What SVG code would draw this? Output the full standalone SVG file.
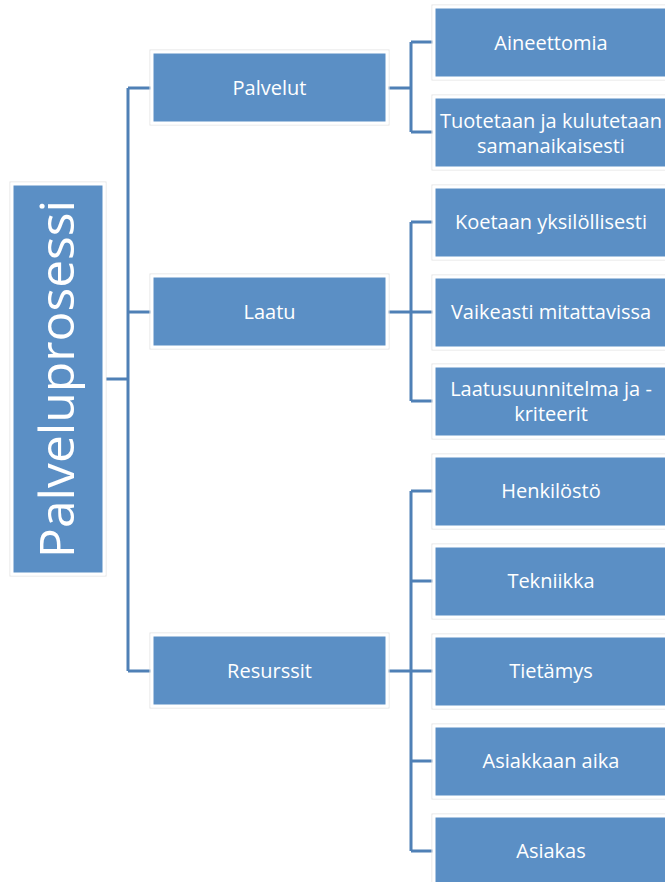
<svg xmlns="http://www.w3.org/2000/svg" width="665" height="882" viewBox="0 0 665 882">
<style>
.box{fill:#5b8fc5;stroke:#ffffff;stroke-width:3}
.edge{fill:none;stroke:#e4e4e4;stroke-width:1}
.t{font-family:"Open Sans","Liberation Sans",sans-serif;font-size:20px;fill:#ffffff;text-anchor:middle}
.root{font-family:"Open Sans","Liberation Sans",sans-serif;font-size:48px;fill:#ffffff;text-anchor:middle}
.c{fill:none;stroke:#4f80b6;stroke-width:3}
</style>
<rect width="665" height="882" fill="#ffffff"/>
<g id="connectors">
<path class="c" d="M106,379 H128 M128,88 V671 M128,88 H151 M128,312 H151 M128,671 H151"/>
<path class="c" d="M388,88 H411 M411,42 V132 M411,42 H435 M411,132 H435"/>
<path class="c" d="M388,312 H411 M411,222 V401 M411,222 H435 M411,312 H435 M411,401 H435"/>
<path class="c" d="M388,671 H411 M411,491 V851 M411,491 H435 M411,581 H435 M411,671 H435 M411,761 H435 M411,851 H435"/>
</g>
<g id="root">
<rect class="edge" x="10" y="182" width="96" height="394"/>
<rect class="box" x="12" y="184" width="92" height="390"/>
<text class="root" transform="translate(74,379) rotate(-90)" textLength="358" lengthAdjust="spacingAndGlyphs">Palveluprosessi</text>
</g>
<g id="palvelut">
<rect class="edge" x="150" y="50" width="239" height="75"/>
<rect class="box" x="152" y="52" width="235" height="71"/>
<text class="t" x="269.5" y="95">Palvelut</text>
</g>
<g id="laatu">
<rect class="edge" x="150" y="274" width="239" height="75"/>
<rect class="box" x="152" y="276" width="235" height="71"/>
<text class="t" x="269.5" y="319">Laatu</text>
</g>
<g id="resurssit">
<rect class="edge" x="150" y="633" width="239" height="75"/>
<rect class="box" x="152" y="635" width="235" height="71"/>
<text class="t" x="269.5" y="678">Resurssit</text>
</g>
<g id="aineettomia">
<rect class="edge" x="432" y="5" width="240" height="75"/>
<rect class="box" x="434" y="7" width="236" height="71"/>
<text class="t" x="551" y="50">Aineettomia</text>
</g>
<g id="tuotetaan">
<rect class="edge" x="432" y="95" width="240" height="75"/>
<rect class="box" x="434" y="97" width="236" height="71"/>
<text class="t" x="551" y="128">Tuotetaan ja kulutetaan</text>
<text class="t" x="551" y="153">samanaikaisesti</text>
</g>
<g id="koetaan">
<rect class="edge" x="432" y="185" width="240" height="75"/>
<rect class="box" x="434" y="187" width="236" height="71"/>
<text class="t" x="551" y="229">Koetaan yksilöllisesti</text>
</g>
<g id="vaikeasti">
<rect class="edge" x="432" y="275" width="240" height="75"/>
<rect class="box" x="434" y="277" width="236" height="71"/>
<text class="t" x="551" y="319">Vaikeasti mitattavissa</text>
</g>
<g id="laatusuunnitelma">
<rect class="edge" x="432" y="364" width="240" height="75"/>
<rect class="box" x="434" y="366" width="236" height="71"/>
<text class="t" x="551" y="396">Laatusuunnitelma ja -</text>
<text class="t" x="551" y="421">kriteerit</text>
</g>
<g id="henkilosto">
<rect class="edge" x="432" y="454" width="240" height="75"/>
<rect class="box" x="434" y="456" width="236" height="71"/>
<text class="t" x="551" y="498">Henkilöstö</text>
</g>
<g id="tekniikka">
<rect class="edge" x="432" y="544" width="240" height="75"/>
<rect class="box" x="434" y="546" width="236" height="71"/>
<text class="t" x="551" y="588">Tekniikka</text>
</g>
<g id="tietamys">
<rect class="edge" x="432" y="634" width="240" height="75"/>
<rect class="box" x="434" y="636" width="236" height="71"/>
<text class="t" x="551" y="678">Tietämys</text>
</g>
<g id="asiakkaan-aika">
<rect class="edge" x="432" y="724" width="240" height="75"/>
<rect class="box" x="434" y="726" width="236" height="71"/>
<text class="t" x="551" y="768">Asiakkaan aika</text>
</g>
<g id="asiakas">
<rect class="edge" x="432" y="814" width="240" height="75"/>
<rect class="box" x="434" y="816" width="236" height="71"/>
<text class="t" x="551" y="858">Asiakas</text>
</g>
</svg>
